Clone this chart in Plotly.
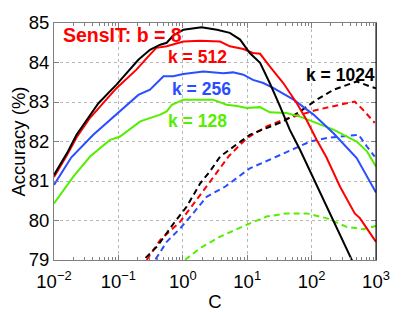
import plotly.graph_objects as go

# ---- data (x given as log10(C)) ----
black_solid_logc = [-2.0, -1.8, -1.65, -1.31, -1.03, -0.69, -0.51, -0.35, -0.25, -0.15, 0.01, 0.29, 0.53, 0.73, 0.89, 1.04, 1.20, 1.35, 1.51, 1.66, 1.82, 2.34, 2.62, 3.0]
black_solid_acc = [81.15, 81.7, 82.17, 82.97, 83.44, 84.07, 84.32, 84.45, 84.5, 84.68, 84.83, 84.89, 84.83, 84.75, 84.58, 84.24, 83.99, 83.48, 82.89, 82.3, 81.79, 79.99, 79.0, 77.7]

red_solid_logc = [-2.0, -1.8, -1.65, -1.44, -1.03, -0.72, -0.51, -0.41, -0.25, 0.01, 0.27, 0.58, 0.73, 0.94, 1.09, 1.2, 1.35, 1.56, 1.77, 1.92, 2.08, 2.23, 2.44, 2.67, 2.75, 3.0]
red_solid_acc = [81.1, 81.65, 82.1, 82.6, 83.35, 83.82, 84.2, 84.37, 84.41, 84.53, 84.55, 84.53, 84.41, 84.34, 84.24, 84.22, 83.9, 83.48, 82.97, 82.55, 82.04, 81.6, 80.86, 80.18, 80.06, 79.46]

blue_solid_logc = [-2.0, -1.73, -1.39, -1.03, -0.69, -0.51, -0.30, -0.15, 0.01, 0.32, 0.63, 0.78, 0.94, 1.09, 1.25, 1.41, 1.72, 2.03, 2.34, 2.70, 3.0]
blue_solid_acc = [80.9, 81.6, 82.17, 82.68, 83.18, 83.31, 83.65, 83.65, 83.71, 83.77, 83.73, 83.75, 83.69, 83.56, 83.48, 83.35, 83.06, 82.68, 82.21, 81.58, 80.71]

green_solid_logc = [-2.0, -1.70, -1.44, -1.13, -0.98, -0.66, -0.35, -0.25, -0.17, 0.01, 0.32, 0.47, 0.68, 0.84, 0.99, 1.2, 1.35, 1.61, 1.82, 2.08, 2.34, 2.54, 2.70, 2.86, 3.0]
green_solid_acc = [80.43, 81.11, 81.62, 82.04, 82.12, 82.51, 82.68, 82.76, 82.93, 83.06, 83.06, 83.06, 82.93, 82.9, 82.85, 82.87, 82.74, 82.72, 82.63, 82.47, 82.3, 82.13, 82.0, 81.75, 81.37]

black_dash_logc = [-0.8, -0.61, -0.40, -0.14, 0.06, 0.27, 0.42, 0.58, 1.04, 1.30, 1.56, 1.82, 2.08, 2.34, 2.70, 2.93, 3.0]
black_dash_acc = [78.7, 79.0, 79.34, 79.93, 80.35, 80.94, 81.24, 81.62, 82.17, 82.34, 82.51, 82.76, 83.06, 83.31, 83.52, 83.38, 83.35]

red_dash_logc = [-0.75, -0.56, -0.35, -0.04, 0.29, 0.40, 0.72, 0.99, 1.30, 1.56, 1.82, 2.08, 2.44, 2.67, 2.80, 2.98]
red_dash_acc = [78.6, 79.0, 79.51, 79.97, 80.69, 80.94, 81.64, 82.08, 82.38, 82.55, 82.68, 82.8, 82.93, 83.01, 82.8, 82.47]

blue_dash_logc = [-0.6, -0.43, -0.25, -0.04, 0.16, 0.37, 0.66, 1.04, 1.46, 1.98, 2.24, 2.44, 2.73, 2.86, 2.98]
blue_dash_acc = [78.6, 79.0, 79.46, 79.8, 80.18, 80.6, 80.86, 81.32, 81.62, 82.0, 82.09, 82.13, 82.17, 81.87, 81.62]

green_dash_logc = [-0.15, 0.03, 0.27, 0.58, 0.99, 1.30, 1.61, 1.92, 2.23, 2.54, 2.80, 3.0]
green_dash_acc = [78.6, 79.0, 79.30, 79.59, 79.89, 80.1, 80.18, 80.18, 80.06, 79.84, 79.78, 79.86]

x_tickvals = [0.01, 0.1, 1, 10, 100, 1000]
x_ticktext = ["10<sup>−2</sup>", "10<sup>−1</sup>", "10<sup>0</sup>", "10<sup>1</sup>", "10<sup>2</sup>", "10<sup>3</sup>"]
y_tickvals = [79, 80, 81, 82, 83, 84, 85]

labels = [
    ("SensIT: b = 8", -0.944, 84.70, "#ff0000", 19.5),
    ("k = 512", 0.228, 84.13, "#ff0000", 17.5),
    ("k = 256", 0.283, 83.33, "#2a4dff", 17.5),
    ("k = 128", 0.228, 82.52, "#55ee00", 17.5),
    ("k = 1024", 2.441, 83.69, "#000000", 17.5),
]

RED = "#ff0000"
BLUE = "#2a4dff"
GREEN = "#55ee00"
BLACK = "#000000"

FONT = "Liberation Sans, Arial, sans-serif"

fig = go.Figure()

def add(logc, acc, color, dash):
    fig.add_trace(go.Scatter(
        x=[10 ** v for v in logc], y=acc, mode="lines",
        line=dict(color=color, width=2, dash=dash),
        showlegend=False, hoverinfo="skip"))

dash = "6px,4px"
add(green_dash_logc, green_dash_acc, GREEN, dash)
add(blue_dash_logc, blue_dash_acc, BLUE, dash)
add(red_dash_logc, red_dash_acc, RED, dash)
add(black_dash_logc, black_dash_acc, BLACK, dash)
add(green_solid_logc, green_solid_acc, GREEN, "solid")
add(blue_solid_logc, blue_solid_acc, BLUE, "solid")
add(red_solid_logc, red_solid_acc, RED, "solid")
add(black_solid_logc, black_solid_acc, BLACK, "solid")

for text, lx, ly, col, sz in labels:
    fig.add_annotation(x=lx, y=ly, xref="x", yref="y", text="<b>%s</b>" % text,
                       showarrow=False, font=dict(family=FONT, size=sz, color=col),
                       xanchor="center", yanchor="middle")

minor_vals = [m * 10 ** e for e in range(-2, 3) for m in range(2, 10)]

fig.add_shape(type="line", xref="paper", yref="paper", x0=1, x1=1, y0=0, y1=1,
              line=dict(color="black", width=1))

# the page body has an 8px margin, so the figure is sized/padded to fit the 415x312 window
fig.update_layout(
    width=407, height=304,
    margin=dict(l=46, r=39, t=15, b=52, autoexpand=False),
    paper_bgcolor="white", plot_bgcolor="white",
    font=dict(family=FONT, size=18.5, color="black"),
    xaxis=dict(type="log", range=[-2, 3], tickvals=x_tickvals, ticktext=x_ticktext,
               automargin=False, ticklabelstandoff=5,
               showline=True, linecolor="#808080", linewidth=1, mirror="ticks",
               ticks="inside", ticklen=5, tickcolor="#808080",
               showgrid=True, gridcolor="#b8b8b8", griddash="dot", gridwidth=1,
               minor=dict(tickvals=minor_vals, ticks="inside", ticklen=3, tickcolor="#808080", showgrid=False),
               title=dict(text="C", font=dict(size=18.5), standoff=3),
               zeroline=False),
    yaxis=dict(range=[79, 85], tickvals=y_tickvals,
               automargin=False,
               showline=True, linecolor="#808080", linewidth=1, mirror="ticks",
               ticks="inside", ticklen=5, tickcolor="#808080",
               showgrid=True, gridcolor="#b8b8b8", griddash="dot", gridwidth=1,
               title=dict(text="Accuracy (%)", font=dict(size=18.5), standoff=0),
               zeroline=False),
)

fig.write_html("out.html")
